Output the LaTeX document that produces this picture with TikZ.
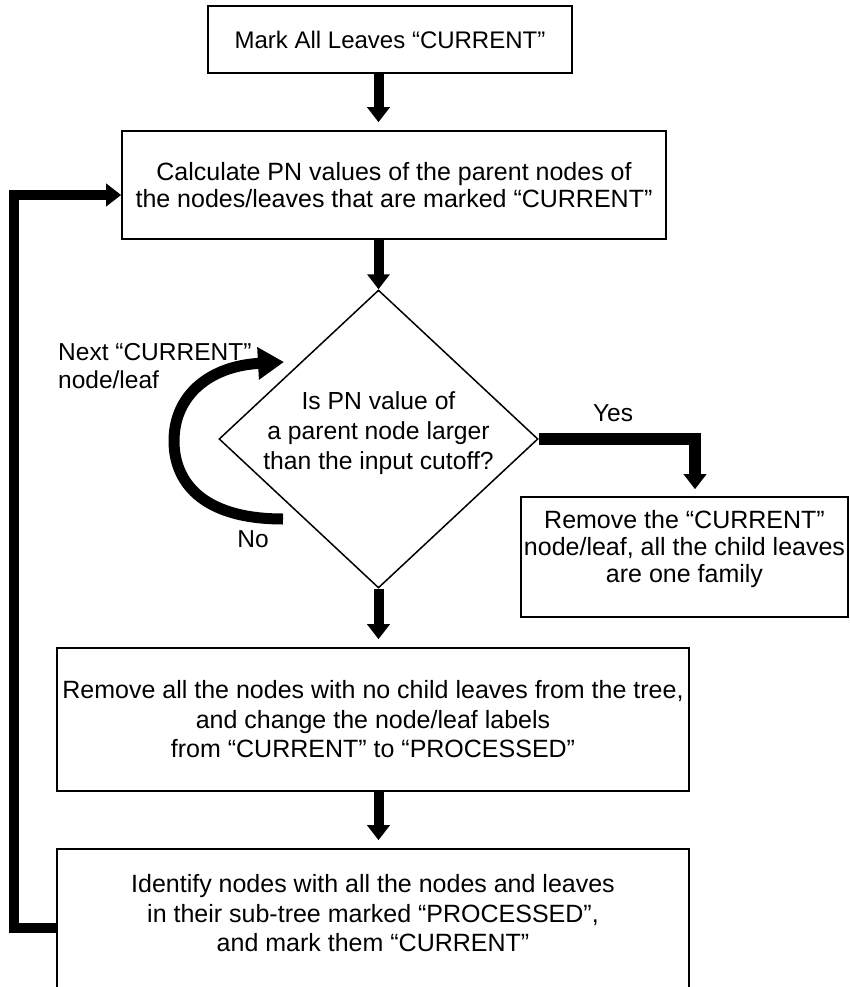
\documentclass[tikz,border=0pt]{standalone}
\usepackage{fontspec}
\setmainfont{Liberation Sans}
\usetikzlibrary{arrows.meta,shapes.geometric,calc}
\begin{document}
\begin{tikzpicture}[x=1pt,y=-1pt,
  box/.style={draw, line width=1.6pt, align=center, inner sep=0pt,
    font=\fontsize{25}{29.5}\selectfont},
  decision/.style={draw, diamond, line width=1.5pt, inner sep=0pt,
    minimum width=319pt, minimum height=298pt},
  flow/.style={line width=10pt, line join=miter,
    -{Triangle[width=22pt,length=15pt]}},
  bigflow/.style={line width=11pt,
    -{Triangle[width=31pt,length=26pt]}},
  lbl/.style={inner sep=0pt, font=\fontsize{24.5}{28}\selectfont}]
\fill[white] (0,0) rectangle (849,987);
\useasboundingbox (0,0) rectangle (849,987);
\clip (0,0) rectangle (849,987);

\node[box, minimum width=364pt, minimum height=67pt, font=\fontsize{24}{29}\selectfont] (b1) at (390,39.5)
  {Mark All Leaves “CURRENT”};
\node[box, minimum width=544pt, minimum height=108pt, font=\fontsize{25}{27.5}\selectfont] (b2) at (394,185)
  {Calculate PN values of the parent nodes of\\the nodes/leaves that are marked “CURRENT”};
\node[decision, label={[font=\fontsize{24.7}{30}\selectfont, align=center, yshift=6pt]center:Is PN value of\\a parent node larger\\than the input cutoff?}] (dec) at (378.5,439) {};
\node[box, minimum width=327pt, minimum height=120pt, font=\fontsize{25}{27}\selectfont] (b3) at (684.5,557)
  {Remove the “CURRENT”\\node/leaf, all the child leaves\\are one family\\[-6pt]\mbox{}};
\node[box, minimum width=632pt, minimum height=143pt] (b4) at (373,719.5)
  {Remove all the nodes with no child leaves from the tree,\\and change the node/leaf labels\\from “CURRENT” to “PROCESSED”};
\node[box, minimum width=632pt, minimum height=158pt] (b5) at (373,928)
  {Identify nodes with all the nodes and leaves\\in their sub-tree marked “PROCESSED”,\\and mark them “CURRENT”\\\mbox{}};

\node[lbl] (yes) at (613,413) {Yes};
\node[lbl] (no) at (253,539) {No};
\node[lbl, anchor=west, align=left] (next) at (58,366) {Next “CURRENT”\\node/leaf};

\coordinate (nostart) at (283,519);
\coordinate (noend) at (284,362);

\draw[flow, shorten >=8pt] (dec.north |- b1.south) -- (dec.north |- b2.north);
\draw[flow] (dec.north |- b2.south) -- (dec.north);
\draw[flow, shorten >=8pt] (dec.south) -- (dec.south |- b4.north);
\draw[flow, shorten >=8pt] (dec.south |- b4.south) -- (dec.south |- b5.north);
\draw[flow, line width=12pt, shorten >=7pt] (dec.east) -| ([xshift=10.5pt]b3.north);
\draw[flow] (b5.west) -- ++(-42,0) |- ([yshift=-10pt]b2.west);
\draw[bigflow] (nostart) .. controls (200,519) and (174,480) .. (174,441)
  .. controls (174,395) and (210,366) .. (noend);
\end{tikzpicture}
\end{document}
